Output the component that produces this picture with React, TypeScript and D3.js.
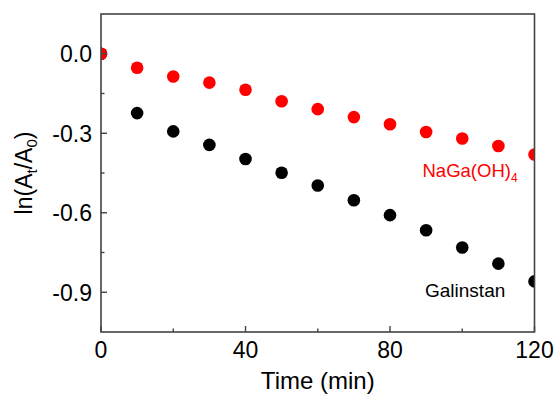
import React, { useRef, useEffect } from "react";
import * as d3 from "d3";

// time in minutes
const times = [0, 10, 20, 30, 40, 50, 60, 70, 80, 90, 100, 110, 120];
// ln(At/A0)
const naGaValues = [0.0, -0.053, -0.086, -0.109, -0.136, -0.179, -0.209, -0.239, -0.266, -0.295, -0.32, -0.348, -0.38];
const galinstanValues = [0.0, -0.224, -0.293, -0.344, -0.397, -0.449, -0.497, -0.553, -0.609, -0.666, -0.731, -0.792, -0.859];

const xTicks = [0, 40, 80, 120];
const xMinorTicks = [20, 60, 100];
const yTicks = [0.0, -0.3, -0.6, -0.9];
const yMinorTicks = [-0.15, -0.45, -0.75];

const App = () => {
  const ref = useRef<SVGSVGElement>(null);

  useEffect(() => {
    const width = 559;
    const height = 396;
    const plot = { left: 101, right: 534.5, top: 14, bottom: 332 };
    const font = "'Liberation Sans', Arial, sans-serif";
    const axisColor = "#444";

    const svg = d3.select(ref.current).attr("width", width).attr("height", height);
    svg.selectAll("*").remove();

    const x = d3.scaleLinear().domain([0, 120]).range([plot.left, plot.right]);
    const y = d3.scaleLinear().domain([-1.05, 0.15]).range([plot.bottom, plot.top]);

    // clip so the edge dots are cut by the frame
    svg.append("defs").append("clipPath").attr("id", "plotClip")
      .append("rect")
      .attr("x", plot.left).attr("y", plot.top)
      .attr("width", plot.right - plot.left).attr("height", plot.bottom - plot.top);

    const dots = svg.append("g").attr("clip-path", "url(#plotClip)");

    const drawSeries = (values: number[], color: string) => {
      dots.append("g").selectAll("circle")
        .data(times.map((t, i) => ({ t, v: values[i] })))
        .enter()
        .append("circle")
        .attr("cx", d => x(d.t))
        .attr("cy", d => y(d.v))
        .attr("r", 6.3)
        .attr("fill", color);
    };
    drawSeries(galinstanValues, "#000");
    drawSeries(naGaValues, "#ff0000");

    // frame
    svg.append("rect")
      .attr("x", plot.left).attr("y", plot.top)
      .attr("width", plot.right - plot.left).attr("height", plot.bottom - plot.top)
      .attr("fill", "none")
      .attr("stroke", axisColor)
      .attr("stroke-width", 1.6);

    // x axis ticks (inward)
    const xAxis = svg.append("g");
    xAxis.selectAll(".major").data(xTicks).enter().append("line")
      .attr("x1", d => x(d)).attr("x2", d => x(d))
      .attr("y1", plot.bottom).attr("y2", plot.bottom - 6)
      .attr("stroke", axisColor).attr("stroke-width", 1.4);
    xAxis.selectAll(".minor").data(xMinorTicks).enter().append("line")
      .attr("x1", d => x(d)).attr("x2", d => x(d))
      .attr("y1", plot.bottom).attr("y2", plot.bottom - 3.5)
      .attr("stroke", axisColor).attr("stroke-width", 1.4);
    xAxis.selectAll("text").data(xTicks).enter().append("text")
      .attr("x", d => x(d))
      .attr("y", 358)
      .attr("text-anchor", "middle")
      .style("font-family", font)
      .style("font-size", "23px")
      .text(d => d3.format("d")(d));

    // y axis ticks (inward)
    const yAxis = svg.append("g");
    yAxis.selectAll(".major").data(yTicks).enter().append("line")
      .attr("x1", plot.left).attr("x2", plot.left + 6)
      .attr("y1", d => y(d)).attr("y2", d => y(d))
      .attr("stroke", axisColor).attr("stroke-width", 1.4);
    yAxis.selectAll(".minor").data(yMinorTicks).enter().append("line")
      .attr("x1", plot.left).attr("x2", plot.left + 3.5)
      .attr("y1", d => y(d)).attr("y2", d => y(d))
      .attr("stroke", axisColor).attr("stroke-width", 1.4);
    yAxis.selectAll("text").data(yTicks).enter().append("text")
      .attr("x", 92)
      .attr("y", d => y(d))
      .attr("dy", "0.36em")
      .attr("text-anchor", "end")
      .style("font-family", font)
      .style("font-size", "23px")
      .text(d => d3.format(".1f")(d).replace("−", "-"));

    // axis titles
    svg.append("text")
      .attr("x", (plot.left + plot.right) / 2)
      .attr("y", 389)
      .attr("text-anchor", "middle")
      .style("font-family", font)
      .style("font-size", "24px")
      .text("Time (min)");

    const yTitle = svg.append("text")
      .attr("transform", `translate(32, ${(plot.top + plot.bottom) / 2}) rotate(-90)`)
      .attr("text-anchor", "middle")
      .style("font-family", font)
      .style("font-size", "23px");
    yTitle.append("tspan").text("ln(A");
    yTitle.append("tspan").attr("dy", 5).style("font-size", "15px").text("t");
    yTitle.append("tspan").attr("dy", -5).text("/A");
    yTitle.append("tspan").attr("dy", 5).style("font-size", "15px").text("0");
    yTitle.append("tspan").attr("dy", -5).text(")");

    // series labels
    const naLabel = svg.append("text")
      .attr("x", 422.5)
      .attr("y", 177)
      .style("font-family", font)
      .style("font-size", "18.5px")
      .attr("fill", "#ff0000");
    naLabel.append("tspan").text("NaGa(OH)");
    naLabel.append("tspan").attr("dy", 5).style("font-size", "12px").text("4");

    svg.append("text")
      .attr("x", 425)
      .attr("y", 297)
      .style("font-family", font)
      .style("font-size", "19px")
      .attr("fill", "#000")
      .text("Galinstan");
  }, []);

  return (
    <div style={{ position: "absolute", left: 0, top: 0 }}>
      <svg ref={ref}></svg>
    </div>
  );
};

export default App;
